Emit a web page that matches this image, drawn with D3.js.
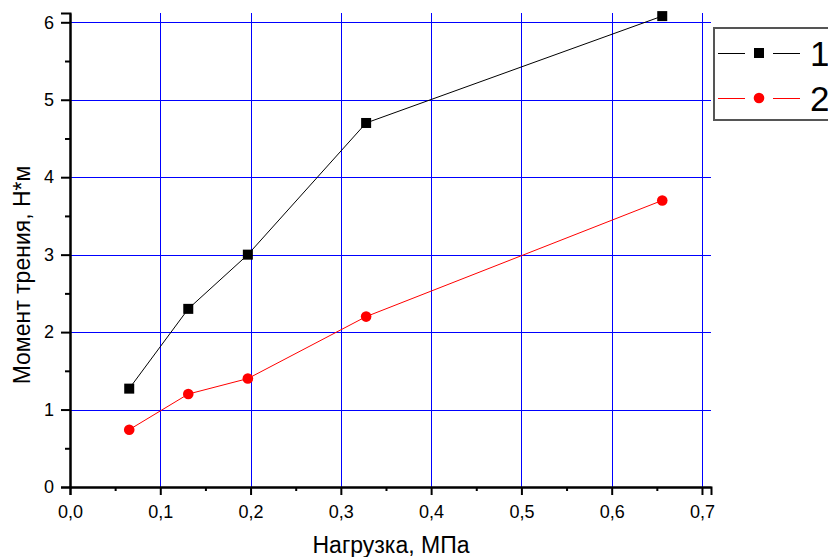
<!DOCTYPE html>
<html>
<head>
<meta charset="utf-8">
<script src="https://cdn.jsdelivr.net/npm/d3@7"></script>
<style>
  body { margin: 0; background: #fff; }
  svg { display: block; font-family: "Liberation Sans", Arial, sans-serif; }
</style>
</head>
<body>
<div id="chart"></div>
<script>
'use strict';

// data
const load = [0.0656, 0.131, 0.197, 0.328, 0.656];
const series1 = [1.27, 2.3, 3.0, 4.7, 6.08];
const series2 = [0.74, 1.2, 1.4, 2.2, 3.7];
const seriesNames = ["1", "2"];
const xTicks = [0, 0.1, 0.2, 0.3, 0.4, 0.5, 0.6, 0.7];
const xMinor = [0.05, 0.15, 0.25, 0.35, 0.45, 0.55, 0.65];
const yTicks = [0, 1, 2, 3, 4, 5, 6];
const yMinor = [0.5, 1.5, 2.5, 3.5, 4.5, 5.5];

const w = 828, h = 557;
const plotLeft = 70, plotRight = 711, plotTop = 13, plotBottom = 487;

const svg = d3.select("#chart")
    .append("svg")
    .attr("width", w)
    .attr("height", h);

const x = d3.scaleLinear().domain([0, 0.71]).range([plotLeft, plotRight]);
const y = d3.scaleLinear().domain([0, 6.12]).range([plotBottom, plotTop]);

// grid
svg.append("g")
    .selectAll("line")
    .data(xTicks.slice(1))
    .enter()
    .append("line")
    .attr("x1", d => Math.round(x(d)) + 0.5)
    .attr("x2", d => Math.round(x(d)) + 0.5)
    .attr("y1", plotTop)
    .attr("y2", plotBottom)
    .attr("stroke", "#0000ff")
    .attr("stroke-width", 1);

svg.append("g")
    .selectAll("line")
    .data(yTicks.slice(1))
    .enter()
    .append("line")
    .attr("x1", plotLeft)
    .attr("x2", plotRight)
    .attr("y1", d => Math.round(y(d)) + 0.5)
    .attr("y2", d => Math.round(y(d)) + 0.5)
    .attr("stroke", "#0000ff")
    .attr("stroke-width", 1);

// axes
const fmt = d => d3.format(".1f")(d).replace(".", ",");

svg.append("g")
    .attr("transform", "translate(0," + plotBottom + ")")
    .call(d3.axisBottom(x).tickValues(xTicks).tickFormat(fmt).tickSize(8).tickPadding(10));
svg.append("g")
    .attr("transform", "translate(0," + plotBottom + ")")
    .call(d3.axisBottom(x).tickValues(xMinor).tickFormat("").tickSize(4).tickSizeOuter(0));

svg.append("g")
    .attr("transform", "translate(" + plotLeft + ",0)")
    .call(d3.axisLeft(y).tickValues(yTicks).tickFormat(d3.format("d")).tickSize(9).tickPadding(7));
svg.append("g")
    .attr("transform", "translate(" + plotLeft + ",0)")
    .call(d3.axisLeft(y).tickValues(yMinor).tickFormat("").tickSize(5).tickSizeOuter(0));

svg.selectAll(".domain").attr("stroke", "#000").attr("stroke-width", 2);
svg.selectAll(".tick line").attr("stroke", "#000").attr("stroke-width", 2);
svg.selectAll(".tick text").attr("font-size", 18).attr("fill", "#000")
    .attr("font-family", "'Liberation Sans', Arial, sans-serif");

// titles
svg.append("text")
    .attr("x", 391)
    .attr("y", 553)
    .attr("text-anchor", "middle")
    .attr("font-size", 23)
    .text("Нагрузка, МПа");

svg.append("text")
    .attr("transform", "translate(30,275) rotate(-90)")
    .attr("text-anchor", "middle")
    .attr("font-size", 23)
    .text("Момент трения, Н*м");

// series
const line = d3.line()
    .x((d, i) => x(load[i]))
    .y(d => y(d));

svg.append("path")
    .datum(series1)
    .attr("d", line)
    .attr("fill", "none")
    .attr("stroke", "#000")
    .attr("stroke-width", 1);

svg.append("path")
    .datum(series2)
    .attr("d", line)
    .attr("fill", "none")
    .attr("stroke", "#ff0000")
    .attr("stroke-width", 1);

svg.append("g")
    .selectAll("rect")
    .data(series1)
    .enter()
    .append("rect")
    .attr("x", (d, i) => x(load[i]) - 5)
    .attr("y", d => y(d) - 5)
    .attr("width", 10)
    .attr("height", 10)
    .attr("fill", "#000");

svg.append("g")
    .selectAll("circle")
    .data(series2)
    .enter()
    .append("circle")
    .attr("cx", (d, i) => x(load[i]))
    .attr("cy", d => y(d))
    .attr("r", 5.3)
    .attr("fill", "#ff0000");

// legend
const legend = svg.append("g");
legend.append("rect")
    .attr("x", 714)
    .attr("y", 28)
    .attr("width", 130)
    .attr("height", 92)
    .attr("fill", "#fff")
    .attr("stroke", "#555")
    .attr("stroke-width", 2);

const legendColors = ["#000", "#ff0000"];
const legendY = [53, 98];

seriesNames.forEach((name, i) => {
    const ly = legendY[i];
    legend.append("line")
        .attr("x1", 718).attr("x2", 745)
        .attr("y1", ly + 0.5).attr("y2", ly + 0.5)
        .attr("stroke", legendColors[i]);
    legend.append("line")
        .attr("x1", 773).attr("x2", 800)
        .attr("y1", ly + 0.5).attr("y2", ly + 0.5)
        .attr("stroke", legendColors[i]);
    if (i === 0) {
        legend.append("rect")
            .attr("x", 754).attr("y", ly - 5)
            .attr("width", 10).attr("height", 10)
            .attr("fill", "#000");
    } else {
        legend.append("circle")
            .attr("cx", 759).attr("cy", ly)
            .attr("r", 5.3)
            .attr("fill", "#ff0000");
    }
    legend.append("text")
        .attr("x", 810)
        .attr("y", ly + 13)
        .attr("font-size", 35)
        .text(name);
});
</script>
</body>
</html>
